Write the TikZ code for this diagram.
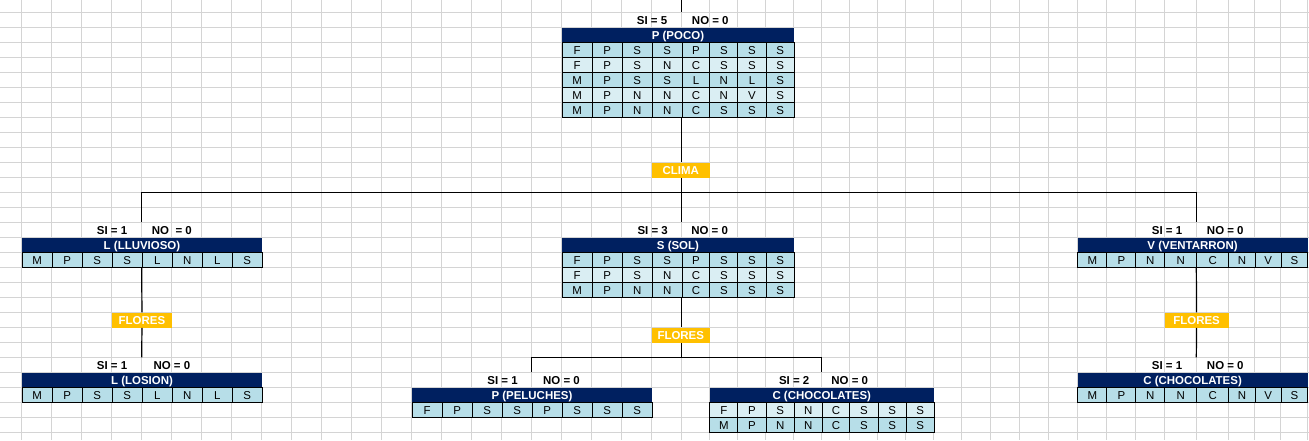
\documentclass[tikz,border=0pt]{standalone}
\usepackage{fontspec}
\setmainfont{Liberation Sans}
\definecolor{navy}{RGB}{0,32,96}
\definecolor{tealdk}{RGB}{183,222,232}
\definecolor{teallt}{RGB}{218,238,243}
\definecolor{gold}{RGB}{255,192,0}
\definecolor{gridc}{RGB}{212,212,212}
\newcommand\cellfont{\fontsize{8.6}{10}\selectfont}
\tikzset{
  x=0.75pt, y=-0.75pt,
  gridline/.style={draw=gridc, line width=0.75pt},
  cell/.style={draw=black, line width=0.8pt, inner sep=0pt, anchor=north west,
    text height=6.3pt, text depth=0pt, font=\cellfont, minimum height=11.25pt},
  header/.style={fill=navy, text=white, inner sep=0pt, anchor=north west,
    minimum height=11.25pt, text height=6.3pt, text depth=0pt, font=\cellfont\bfseries},
  tag/.style={fill=gold, text=white, inner sep=0pt, anchor=north west,
    minimum height=11.25pt, text height=6.3pt, text depth=0pt, font=\cellfont\bfseries},
  count/.style={anchor=west, inner sep=0pt, text height=6.3pt, text depth=0pt,
    font=\cellfont\bfseries},
  conn/.style={draw=black, line width=0.9pt},
}
% one data row: #1 name, #2 x boundaries (9), #3 top y, #4 fill, #5 values (8)
\newcommand\trow[5]{%
  \foreach \v [count=\i from 0] in {#5} {
    \pgfmathsetmacro\xl{{#2}[\i]}
    \pgfmathsetmacro\xr{{#2}[\i+1]}
    \pgfmathsetmacro\w{(\xr-\xl)*0.75}
    \node[cell, fill=#4, minimum width=\w pt] (#1-\i) at (\xl,#3) {\v};
  }%
}
% header: #1 name, #2 left x, #3 right x, #4 top y, #5 text
\newcommand\thead[5]{%
  \pgfmathsetmacro\w{(#3-#2)*0.75}
  \node[header, minimum width=\w pt] (#1) at (#2,#4) {#5};%
}
% tag box: #1 name, #2 left x, #3 right x, #4 top y, #5 text
\newcommand\ttag[5]{%
  \pgfmathsetmacro\w{(#3-#2)*0.75}
  \node[tag, minimum width=\w pt] (#1) at (#2,#4) {#5};%
}
\begin{document}
\begin{tikzpicture}
\fill[white] (0,0) rectangle (1309,440);
\useasboundingbox (0,0) rectangle (1309,440);
% grid
\foreach \gx in {21.7,51.7,81.7,111.7,141.7,171.7,201.7,231.7,261.7,291.7,321.7,351.7,381.7,411.7,441.7,471.7,501.7,531.7,561.7,591.7,621.7,651.7,681.7,709.3,737.3,765.7,793.7,821.7,849.3,877.7,905.7,933.7,961.7,990.7,1019.3,1048.3,1077.3,1106.3,1135.3,1164.3,1196.3,1228.3,1254.7,1280.7,1307.3}
  \draw[gridline] (\gx,0) -- (\gx,440);
\foreach \k in {0,...,28}
  \draw[gridline] (0,{12.3+15*\k}) -- (1309,{12.3+15*\k});

\def\XL{21.7,51.7,81.7,111.7,141.7,171.7,201.7,231.7,261.7}
\def\XM{561.7,591.7,621.7,651.7,681.7,709.3,737.3,765.7,793.7}
\def\XP{411.7,441.7,471.7,501.7,531.7,561.7,591.7,621.7,651.7}
\def\XC{709.3,737.3,765.7,793.7,821.7,849.3,877.7,905.7,933.7}
\def\XR{1077.3,1106.3,1135.3,1164.3,1196.3,1228.3,1254.7,1280.7,1307.3}

% root: P (POCO)
\node[count] (siRoot) at (636.7,19.8) {SI = 5};
\node[count] (noRoot) at (691.7,19.8) {NO = 0};
\thead{hRoot}{561.7}{793.7}{27.3}{P (POCO)}
\trow{rootA}{\XM}{42.3}{tealdk}{F,P,S,S,P,S,S,S}
\trow{rootB}{\XM}{57.3}{teallt}{F,P,S,N,C,S,S,S}
\trow{rootC}{\XM}{72.3}{tealdk}{M,P,S,S,L,N,L,S}
\trow{rootD}{\XM}{87.3}{teallt}{M,P,N,N,C,N,V,S}
\trow{rootE}{\XM}{102.3}{tealdk}{M,P,N,N,C,S,S,S}

\ttag{clima}{651.7}{709.3}{162.3}{CLIMA}

% L (LLUVIOSO)
\node[count] (siLl) at (96.7,229.8) {SI = 1};
\node[count] (noLl) at (151.7,229.8) {NO\ \ = 0};
\thead{hLl}{21.7}{261.7}{237.3}{L (LLUVIOSO)}
\trow{llA}{\XL}{252.3}{tealdk}{M,P,S,S,L,N,L,S}

% S (SOL)
\node[count] (siSol) at (637.3,229.8) {SI = 3};
\node[count] (noSol) at (691,229.8) {NO = 0};
\thead{hSol}{561.7}{793.7}{237.3}{S (SOL)}
\trow{solA}{\XM}{252.3}{tealdk}{F,P,S,S,P,S,S,S}
\trow{solB}{\XM}{267.3}{teallt}{F,P,S,N,C,S,S,S}
\trow{solC}{\XM}{282.3}{tealdk}{M,P,N,N,C,S,S,S}

% V (VENTARRON)
\node[count] (siV) at (1151.7,229.8) {SI = 1};
\node[count] (noV) at (1206.7,229.8) {NO = 0};
\thead{hV}{1077.3}{1307.3}{237.3}{V (VENTARRON)}
\trow{vA}{\XR}{252.3}{tealdk}{M,P,N,N,C,N,V,S}

% FLORES tags
\ttag{florL}{111.7}{171.7}{312.3}{FLORES}
\ttag{florM}{651.7}{709.3}{327.3}{FLORES}
\ttag{florR}{1164.3}{1228.3}{312.3}{FLORES}

% L (LOSION)
\node[count] (siLo) at (96.7,364.8) {SI = 1};
\node[count] (noLo) at (153.3,364.8) {NO = 0};
\thead{hLo}{21.7}{261.7}{372.3}{L (LOSION)}
\trow{loA}{\XL}{387.3}{tealdk}{M,P,S,S,L,N,L,S}

% P (PELUCHES)
\node[count] (siPe) at (487.1,379.8) {SI = 1};
\node[count] (noPe) at (542.9,379.8) {NO = 0};
\thead{hPe}{411.7}{651.7}{387.3}{P (PELUCHES)}
\trow{peA}{\XP}{402.3}{tealdk}{F,P,S,S,P,S,S,S}

% C (CHOCOLATES) middle
\node[count] (siCm) at (778.8,379.8) {SI = 2};
\node[count] (noCm) at (831.1,379.8) {NO = 0};
\thead{hCm}{709.3}{933.7}{387.3}{C (CHOCOLATES)}
\trow{cmA}{\XC}{402.3}{teallt}{F,P,S,N,C,S,S,S}
\trow{cmB}{\XC}{417.3}{tealdk}{M,P,N,N,C,S,S,S}

% C (CHOCOLATES) right
\node[count] (siCr) at (1151.7,364.8) {SI = 1};
\node[count] (noCr) at (1206.7,364.8) {NO = 0};
\thead{hCr}{1077.3}{1307.3}{372.3}{C (CHOCOLATES)}
\trow{crA}{\XR}{387.3}{tealdk}{M,P,N,N,C,N,V,S}

% connectors
\coordinate (top) at (681.7,0);
\coordinate (rootin) at (681.7,12.3);
\coordinate (rootout) at (681.7,117.3);
\coordinate (j1) at (681.7,192.3);
\coordinate (llin) at (141.7,222.3);
\coordinate (solin) at (681.7,222.3);
\coordinate (vin) at (1196.3,222.3);
\coordinate (llout) at (141.7,267.3);
\coordinate (solout) at (681.7,297.3);
\coordinate (vout) at (1196.3,267.3);
\coordinate (loin) at (141.7,357.3);
\coordinate (j2) at (681.7,357.3);
\coordinate (pein) at (531.7,372.3);
\coordinate (cmin) at (821.7,372.3);
\coordinate (crin) at (1196.3,357.3);

\draw[conn] (top) -- (rootin);
\draw[conn] (rootout) -- (rootout |- clima.north);
\draw[conn] (rootout |- clima.south) -- (j1);
\draw[conn] (llin) -- (llin |- j1) -- (vin |- j1) -- (vin);
\draw[conn] (j1) -- (solin);
\draw[conn] (llout) -- (florL.north);
\draw[conn] (florL.south) -- (loin);
\draw[conn] (solout) -- (solout |- florM.north);
\draw[conn] (solout |- florM.south) -- (j2);
\draw[conn] (pein) -- (pein |- j2) -- (cmin |- j2) -- (cmin);
\draw[conn] (vout) -- (florR.north);
\draw[conn] (florR.south) -- (crin);
\end{tikzpicture}
\end{document}
